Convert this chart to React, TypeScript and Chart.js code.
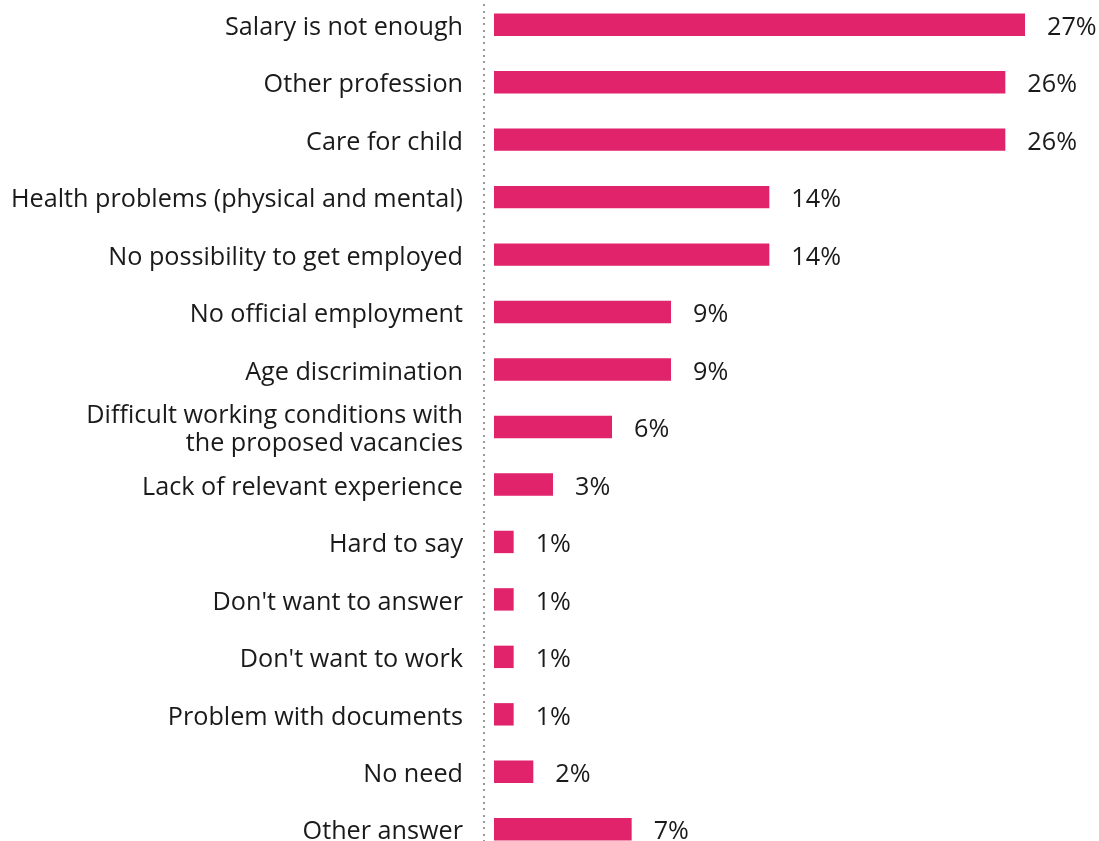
import React, { useEffect, useRef } from "react";
import { Chart, registerables } from "chart.js";

Chart.register(...registerables);

const categories: (string | string[])[] = [
  "Salary is not enough",
  "Other profession",
  "Care for child",
  "Health problems (physical and mental)",
  "No possibility to get employed",
  "No official employment",
  "Age discrimination",
  ["Difficult working conditions with", "the proposed vacancies"],
  "Lack of relevant experience",
  "Hard to say",
  "Don't want to answer",
  "Don't want to work",
  "Problem with documents",
  "No need",
  "Other answer",
];

const values: number[] = [27, 26, 26, 14, 14, 9, 9, 6, 3, 1, 1, 1, 1, 2, 7];

const BAR_COLOR = "#E0236A";
const FONT = "'Open Sans', 'Noto Sans', sans-serif";
const FONT_SIZE = 25.2;

const valueLabelPlugin = {
  id: "valueLabels",
  afterDatasetsDraw(chart: any) {
    const ctx = chart.ctx;
    const meta = chart.getDatasetMeta(0);
    ctx.save();
    ctx.font = `${FONT_SIZE}px ${FONT}`;
    ctx.fillStyle = "#1a1a1a";
    ctx.textAlign = "left";
    ctx.textBaseline = "middle";
    meta.data.forEach((bar: any, i: number) => {
      ctx.fillText(values[i] + "%", bar.x + 22, bar.y + 3);
    });
    ctx.restore();
  },
};

const dottedAxisPlugin = {
  id: "dottedAxis",
  beforeDatasetsDraw(chart: any) {
    const ctx = chart.ctx;
    const { left, top, bottom } = chart.chartArea;
    ctx.save();
    ctx.fillStyle = "#9a9a9a";
    for (let y = top + 2; y < bottom; y += 6.33) {
      ctx.fillRect(left - 1, Math.round(y), 2, 2);
    }
    ctx.restore();
  },
};

export default function App() {
  const ref = useRef<HTMLCanvasElement | null>(null);
  useEffect(() => {
    if (!ref.current) return;
    const chart = new Chart(ref.current, {
      type: "bar",
      data: {
        labels: categories,
        datasets: [
          {
            data: values,
            backgroundColor: BAR_COLOR,
            borderWidth: 0,
            barPercentage: 0.78,
            categoryPercentage: 0.5,
          },
        ],
      },
      options: {
        indexAxis: "y",
        animation: false,
        responsive: false,
        maintainAspectRatio: false,
        layout: { padding: { left: 0, right: 15, top: 0, bottom: 0 } },
        plugins: {
          legend: { display: false },
          tooltip: { enabled: false },
        },
        scales: {
          x: {
            display: false,
            min: -0.508,
            max: 30,
          },
          y: {
            afterFit: (scale: any) => {
              scale.width = 484;
              scale.paddingTop = 0;
              scale.paddingBottom = 0;
            },
            grid: { display: false, drawTicks: false },
            border: { display: false },
            ticks: {
              autoSkip: false,
              padding: 21,
              labelOffset: 3,
              color: "#1a1a1a",
              font: { family: FONT, size: FONT_SIZE, lineHeight: 1.1 },
            },
          },
        },
      },
      plugins: [valueLabelPlugin, dottedAxisPlugin],
    });
    return () => chart.destroy();
  }, []);
  return (
    <canvas
      ref={ref}
      width={1099}
      height={862}
      style={{ position: "absolute", left: 0, top: -4, width: 1099, height: 862 }}
    />
  );
}
